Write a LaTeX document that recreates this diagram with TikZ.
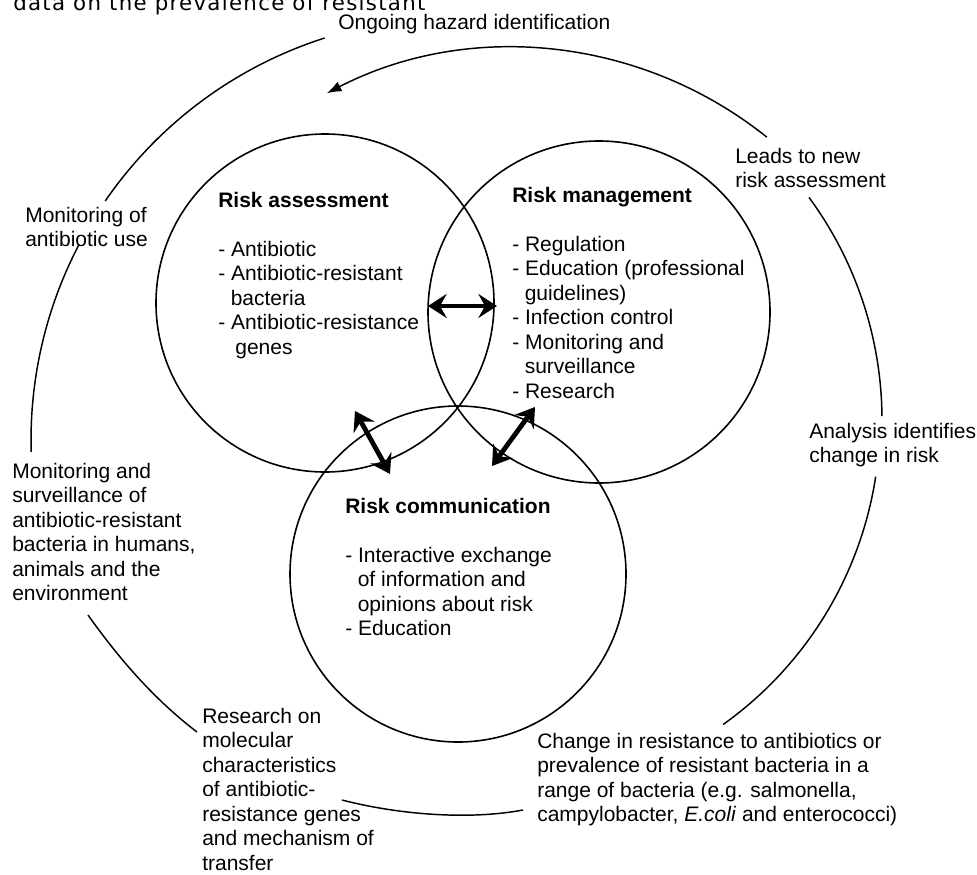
\documentclass[tikz,border=0pt]{standalone}
\usepackage{fontspec}
\setmainfont{Liberation Sans}
\newfontfamily\topfont[LetterSpace=6]{DejaVu Sans}
\usetikzlibrary{arrows.meta}
\newcommand{\mylines}[1]{\begin{tabular}[t]{@{}l@{}}#1\end{tabular}}
\newcommand{\hang}{\hspace*{9.4pt}}
\begin{document}
\begin{tikzpicture}[x=0.75pt,y=-0.75pt,
  lbl/.style={anchor=base west, inner sep=0pt, font=\fontsize{15.75}{18.4}\selectfont},
  ring/.style={draw, circle, line width=1.2pt, minimum size=#1, inner sep=0pt},
  cyc/.style={line width=1.1pt},
  dbl/.style={line width=3.6pt, {Stealth[length=14pt,width=18pt,inset=5pt]}-{Stealth[length=14pt,width=18pt,inset=5pt]}},
  cycarrow/.style={line width=1.1pt, -{Latex[length=11pt,width=8pt]}}
]
\useasboundingbox (0,0) rectangle (977,874);
\fill[white] (0,0) rectangle (977,874);

% cut-off text at the top
\node[anchor=base west, inner sep=0pt, font=\topfont\fontsize{16}{18}\selectfont] (cut) at (13,11) {data on the prevalence of resistant};

% the three circles
\node[ring=253.5pt] (ra) at (325,303) {};
\node[ring=256.5pt] (rm) at (599,312) {};
\node[ring=252pt] (rc) at (458,574) {};

% texts inside the circles
\node[lbl] (ratext) at (218,207) {\mylines{\textbf{Risk assessment}\\ \\- Antibiotic\\- Antibiotic-resistant\\\hang bacteria\\- Antibiotic-resistance\\\hspace*{12.8pt}genes}};
\node[lbl] (rmtext) at (512,202) {\mylines{\textbf{Risk management}\\ \\- Regulation\\- Education (professional\\\hang guidelines)\\- Infection control\\- Monitoring and\\\hang surveillance\\- Research}};
\node[lbl] (rctext) at (345,513) {\mylines{\textbf{Risk communication}\\ \\- Interactive exchange\\\hang of information and\\\hang opinions about risk\\- Education}};

% double arrows between the circles
\coordinate (h1) at (428,306); \coordinate (h2) at (497,306);
\coordinate (l1) at (355,411); \coordinate (l2) at (390,474);
\coordinate (r1) at (535,407); \coordinate (r2) at (492,466);
\draw[dbl] (h1) -- (h2);
\draw[dbl] (l1) -- (l2);
\draw[dbl] (r1) -- (r2);

% outer labels
\node[lbl] (ongoing) at (338,30) {Ongoing hazard identification};
\node[lbl] (leads) at (735,163) {\mylines{Leads to new\\risk assessment}};
\node[lbl] (monuse) at (25,222) {\mylines{Monitoring of\\antibiotic use}};
\node[lbl] (monsurv) at (12,478) {\mylines{Monitoring and\\surveillance of\\antibiotic-resistant\\bacteria in humans,\\animals and the\\environment}};
\node[lbl] (analysis) at (809,438) {\mylines{Analysis identifies\\change in risk}};
\node[lbl] (research) at (202,723) {\mylines{Research on\\molecular\\characteristics\\of antibiotic-\\resistance genes\\and mechanism of\\transfer}};
\node[lbl] (change) at (537,748) {\mylines{Change in resistance to antibiotics or\\prevalence of resistant bacteria in a\\range of bacteria (e.g. salmonella,\\campylobacter, \textit{E.coli} and enterococci)}};

% outer cycle
\coordinate (cl) at (453,440);   % centre of the left arcs
\coordinate (cr) at (506,420);   % centre of the right arcs
\coordinate (ct) at (513,454);   % centre of the top arrow arc
\draw[cyc] (cl) ++(-107.7:422) coordinate (a1s) arc[start angle=-107.7, end angle=-145.5, radius=422] coordinate (a1e);
\draw[cyc] (cl) ++(-152.4:422) coordinate (a2s) arc[start angle=-152.4, end angle=-181.6, radius=422] coordinate (a2e);
\coordinate (a3s) at (88,615);  \coordinate (a3e) at (197,732);
\coordinate (a4s) at (342,800); \coordinate (a4e) at (523,810);
\draw[cyc] (a3s) .. controls (120,660) and (155,700) .. (a3e);
\draw[cyc] (a4s) .. controls (400,815) and (470,820) .. (a4e);
\draw[cyc] (cr) ++(54.5:374) coordinate (a5s) arc[start angle=54.5, end angle=8.7, radius=374] coordinate (a5e);
\draw[cyc] (cr) ++(-0.6:376) coordinate (a6s) arc[start angle=-0.6, end angle=-36.3, radius=376] coordinate (a6e);
\draw[cycarrow] (ct) ++(-51.3:406) coordinate (a7s) arc[start angle=-51.3, end angle=-117.3, radius=406] coordinate (a7e);
\end{tikzpicture}
\end{document}
